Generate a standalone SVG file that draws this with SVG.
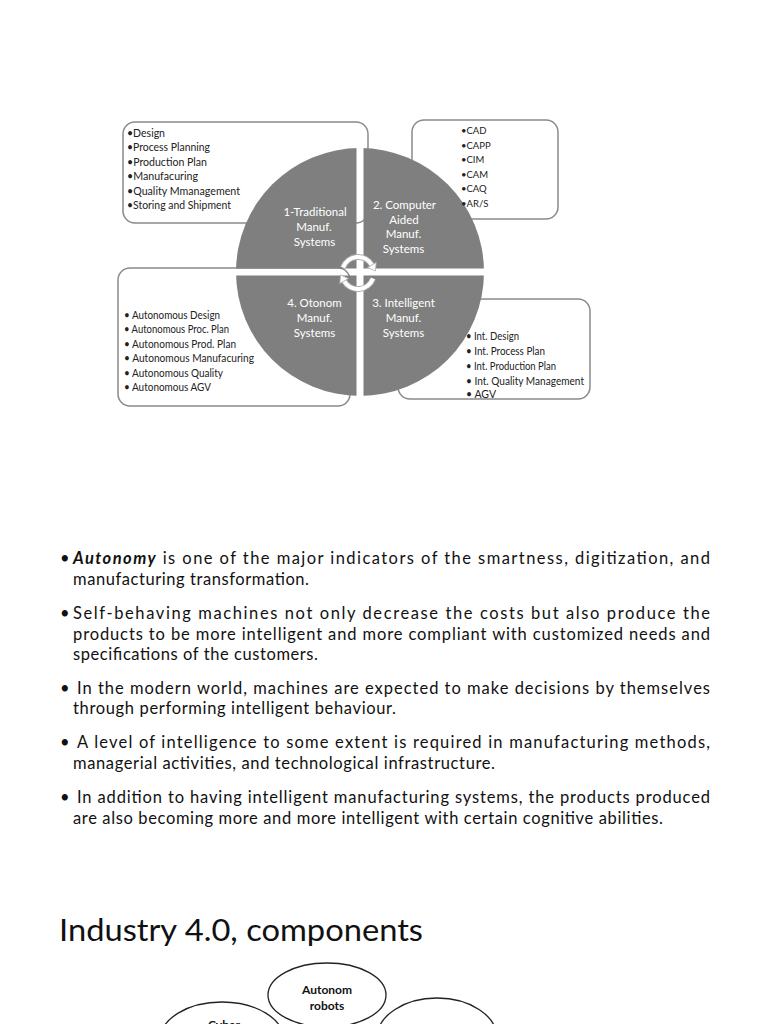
<svg xmlns="http://www.w3.org/2000/svg" width="768" height="1024" viewBox="0 0 768 1024">
<defs>
<style>
.box{fill:#fff;stroke:#8a8a8a;stroke-width:1.5}
.bt{font-family:Lato,"Liberation Sans",sans-serif;font-size:10.5px;fill:#222}
.bt2{font-family:Lato,"Liberation Sans",sans-serif;font-size:9.5px;fill:#222}
.ql{font-family:Lato,"Liberation Sans",sans-serif;font-size:11.5px;fill:#fff;text-anchor:middle}
.q{fill:#7f7f7f}
.body{font-family:Lato,"Liberation Sans",sans-serif;font-size:16.5px;fill:#111}
.el{fill:#fff;stroke:#222;stroke-width:1.3}
.et{font-family:Lato,"Liberation Sans",sans-serif;font-size:12px;font-weight:bold;fill:#111;text-anchor:middle}
</style>
<clipPath id="circ"><circle cx="360" cy="272" r="124"/></clipPath>
</defs>
<rect width="768" height="1024" fill="#fff"/>

<g id="box-traditional">
<rect class="box" x="123" y="122" width="245" height="101" rx="12"/>
</g>
<g id="box-computer">
<rect class="box" x="412" y="120" width="146" height="99" rx="12"/>
</g>
<g id="box-otonom">
<rect class="box" x="118" y="268" width="232" height="138" rx="12"/>
</g>
<g id="box-intelligent">
<rect class="box" x="398" y="299" width="192" height="100" rx="12"/>
</g>

<g clip-path="url(#circ)">
<g id="q1-traditional"><rect class="q" x="230" y="140" width="126.5" height="128.5"/></g>
<g id="q2-computer"><rect class="q" x="363.5" y="140" width="130" height="128.5"/></g>
<g id="q4-otonom"><rect class="q" x="230" y="275.5" width="126.5" height="128"/></g>
<g id="q3-intelligent"><rect class="q" x="363.5" y="275.5" width="130" height="128"/></g>
</g>

<g id="box-traditional-text">
<text class="bt" x="127" y="136.5" textLength="38" lengthAdjust="spacingAndGlyphs">•Design</text>
<text class="bt" x="127" y="151" textLength="83" lengthAdjust="spacingAndGlyphs">•Process Planning</text>
<text class="bt" x="127" y="165.5" textLength="80" lengthAdjust="spacingAndGlyphs">•Production Plan</text>
<text class="bt" x="127" y="180" textLength="71" lengthAdjust="spacingAndGlyphs">•Manufacuring</text>
<text class="bt" x="127" y="194.5" textLength="113" lengthAdjust="spacingAndGlyphs">•Quality Mmanagement</text>
<text class="bt" x="127" y="209" textLength="104" lengthAdjust="spacingAndGlyphs">•Storing and Shipment</text>
</g>

<g id="box-computer-text">
<text class="bt2" x="461" y="134">•CAD</text>
<text class="bt2" x="461" y="148.5">•CAPP</text>
<text class="bt2" x="461" y="163">•CIM</text>
<text class="bt2" x="461" y="177.5">•CAM</text>
<text class="bt2" x="461" y="192">•CAQ</text>
<text class="bt2" x="461" y="206.5">•AR/S</text>
</g>

<g id="box-otonom-text">
<text class="bt" x="124" y="318.5" textLength="96" lengthAdjust="spacingAndGlyphs">• Autonomous Design</text>
<text class="bt" x="124" y="333" textLength="105" lengthAdjust="spacingAndGlyphs">• Autonomous Proc. Plan</text>
<text class="bt" x="124" y="347.5" textLength="112" lengthAdjust="spacingAndGlyphs">• Autonomous Prod. Plan</text>
<text class="bt" x="124" y="362" textLength="130" lengthAdjust="spacingAndGlyphs">• Autonomous Manufacuring</text>
<text class="bt" x="124" y="376.5" textLength="99" lengthAdjust="spacingAndGlyphs">• Autonomous Quality</text>
<text class="bt" x="124" y="391" textLength="87" lengthAdjust="spacingAndGlyphs">• Autonomous AGV</text>
</g>

<g id="box-intelligent-text">
<text class="bt" x="466" y="339.5" textLength="53" lengthAdjust="spacingAndGlyphs">• Int. Design</text>
<text class="bt" x="466" y="354.5" textLength="79" lengthAdjust="spacingAndGlyphs">• Int. Process Plan</text>
<text class="bt" x="466" y="369.5" textLength="90" lengthAdjust="spacingAndGlyphs">• Int. Production Plan</text>
<text class="bt" x="466" y="384.5" textLength="118" lengthAdjust="spacingAndGlyphs">• Int. Quality Management</text>
<text class="bt" x="466" y="398">• AGV</text>
</g>

<g id="labels">
<text class="ql" x="315" y="216">1-Traditional</text>
<text class="ql" x="314" y="231">Manuf.</text>
<text class="ql" x="314.5" y="246">Systems</text>
<text class="ql" x="404.5" y="209">2. Computer</text>
<text class="ql" x="404" y="224">Aided</text>
<text class="ql" x="403.5" y="238">Manuf.</text>
<text class="ql" x="403.5" y="253">Systems</text>
<text class="ql" x="314.5" y="307">4. Otonom</text>
<text class="ql" x="314.5" y="322">Manuf.</text>
<text class="ql" x="314.5" y="337">Systems</text>
<text class="ql" x="403.5" y="307">3. Intelligent</text>
<text class="ql" x="403.5" y="322">Manuf.</text>
<text class="ql" x="403.5" y="337">Systems</text>
</g>

<g id="connectors">
<path d="M 343 267.5 A 16 16 0 0 1 371.9 265" fill="none" stroke="#b0b0b0" stroke-width="6"/>
<path d="M 343 267.5 A 16 16 0 0 1 371.9 265" fill="none" stroke="#fff" stroke-width="4"/>
<polygon points="375.4,271 376.2,262.5 367.6,267.5" fill="#fff" stroke="#b0b0b0" stroke-width="0.8"/>
<path d="M 373 278.5 A 16 16 0 0 1 344.1 281" fill="none" stroke="#b0b0b0" stroke-width="6"/>
<path d="M 373 278.5 A 16 16 0 0 1 344.1 281" fill="none" stroke="#fff" stroke-width="4"/>
<polygon points="340.6,274.9 339.8,283.5 348.4,278.5" fill="#fff" stroke="#b0b0b0" stroke-width="0.8"/>
</g>

<g id="bullets">
<text class="body" x="60" y="564">•</text>
<text class="body" x="73" y="564" textLength="637" lengthAdjust="spacing"><tspan font-weight="bold" font-style="italic">Autonomy</tspan> is one of the major indicators of the smartness, digitization, and</text>
<text class="body" x="73" y="585" textLength="236" lengthAdjust="spacing">manufacturing transformation.</text>
<text class="body" x="60" y="619">•</text>
<text class="body" x="73" y="619" textLength="637" lengthAdjust="spacing">Self-behaving machines not only decrease the costs but also produce the</text>
<text class="body" x="73" y="640" textLength="637" lengthAdjust="spacing">products to be more intelligent and more compliant with customized needs and</text>
<text class="body" x="73" y="660" textLength="245" lengthAdjust="spacing">specifications of the customers.</text>
<text class="body" x="60" y="694">•</text>
<text class="body" x="77" y="694" textLength="633" lengthAdjust="spacing">In the modern world, machines are expected to make decisions by themselves</text>
<text class="body" x="73" y="714" textLength="323" lengthAdjust="spacing">through performing intelligent behaviour.</text>
<text class="body" x="60" y="748">•</text>
<text class="body" x="77" y="748" textLength="633" lengthAdjust="spacing">A level of intelligence to some extent is required in manufacturing methods,</text>
<text class="body" x="73" y="769" textLength="422" lengthAdjust="spacing">managerial activities, and technological infrastructure.</text>
<text class="body" x="60" y="803">•</text>
<text class="body" x="77" y="803" textLength="633" lengthAdjust="spacing">In addition to having intelligent manufacturing systems, the products produced</text>
<text class="body" x="73" y="824" textLength="590" lengthAdjust="spacing">are also becoming more and more intelligent with certain cognitive abilities.</text>
</g>

<text x="59" y="941" font-family="Lato,'Liberation Sans',sans-serif" font-size="31" fill="#111" textLength="364" lengthAdjust="spacingAndGlyphs">Industry 4.0, components</text>

<g id="node-cyber">
<ellipse class="el" cx="222" cy="1040" rx="62" ry="38"/>
<text class="et" x="224" y="1029">Cyber</text>
</g>
<g id="node-right">
<ellipse class="el" cx="437" cy="1038" rx="60" ry="40"/>
</g>
<g id="node-autonom">
<ellipse class="el" cx="327" cy="995" rx="59" ry="32"/>
<text class="et" x="327" y="994">Autonom</text>
<text class="et" x="327" y="1010">robots</text>
</g>
</svg>
